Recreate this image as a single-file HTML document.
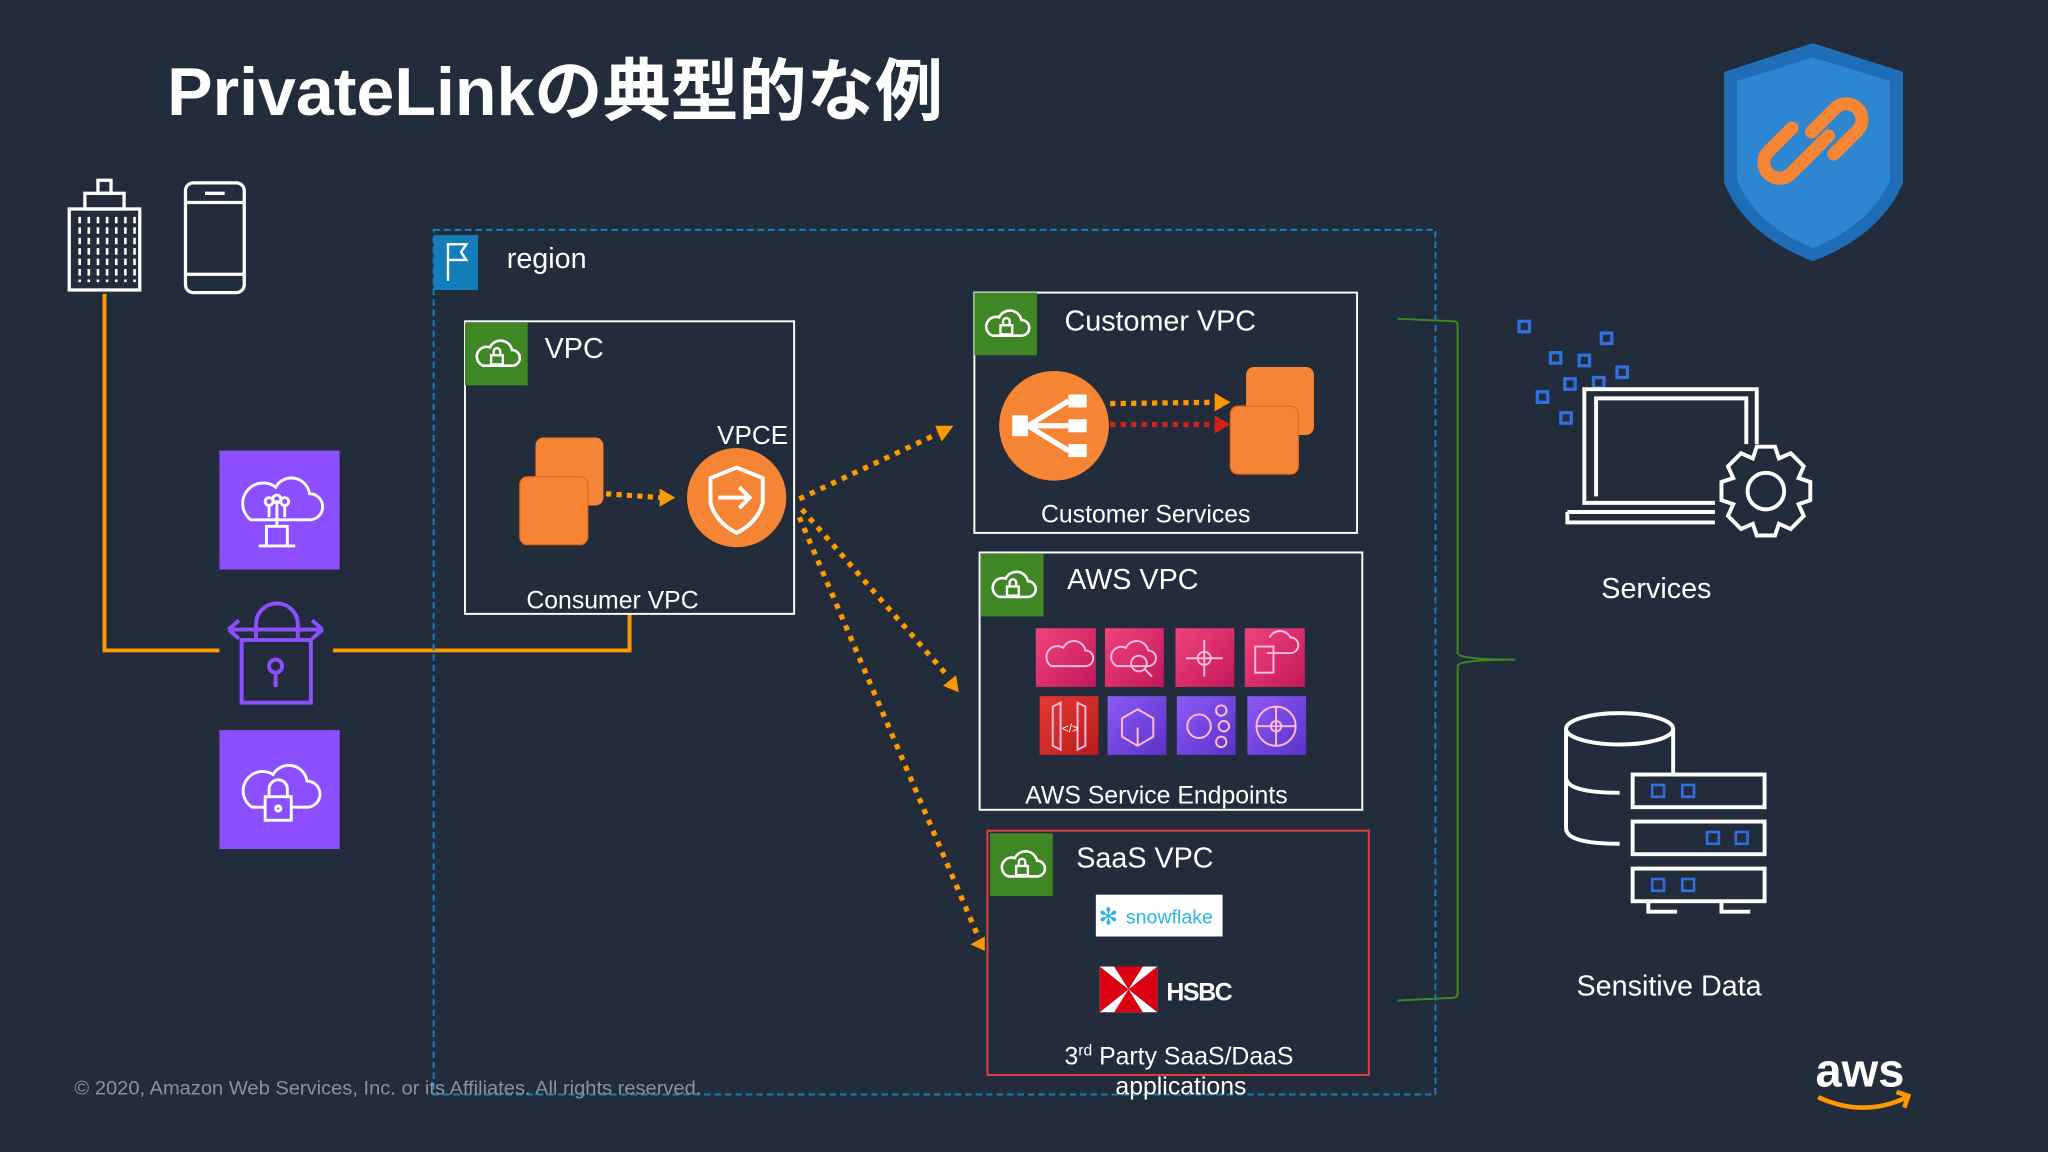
<!DOCTYPE html>
<html><head><meta charset="utf-8"><style>
html,body{margin:0;padding:0;background:#232c3b;}
svg{display:block}
text{font-family:"Liberation Sans","Noto Sans CJK JP",sans-serif;fill:#fff}
</style></head><body>
<svg width="2048" height="1152" viewBox="0 0 1568 882" xmlns="http://www.w3.org/2000/svg">
<defs>
<linearGradient id="pk" x1="0" y1="0" x2="1" y2="1"><stop offset="0" stop-color="#f0447c"/><stop offset="1" stop-color="#c2185b"/></linearGradient>
<linearGradient id="pu" x1="0" y1="0" x2="1" y2="1"><stop offset="0" stop-color="#8b5cf6"/><stop offset="1" stop-color="#5a32c8"/></linearGradient>
<linearGradient id="rd" x1="0" y1="0" x2="1" y2="1"><stop offset="0" stop-color="#e53935"/><stop offset="1" stop-color="#b71c1c"/></linearGradient>
<g id="cloudlock"><rect width="48" height="48" fill="#3f8624"/><path d="M14 33 h22 a6 6 0 0 0 0-12 a9 9 0 0 0-17-2 a7 7 0 0 0-5 14z" fill="none" stroke="#fff" stroke-width="2"/><rect x="20" y="25" width="9" height="7" fill="none" stroke="#fff" stroke-width="1.8"/><path d="M22 25 v-3 a2.5 2.5 0 0 1 5 0 v3" fill="none" stroke="#fff" stroke-width="1.8"/></g>
<g id="osq"><rect x="12" y="0" width="52" height="52" rx="6" fill="#f58534"/><rect x="0" y="30" width="52" height="52" rx="6" fill="#f58534" stroke="#e06b1e" stroke-width="1"/></g>
</defs>
<rect width="1568" height="882" fill="#232c3b"/>
<text x="128" y="88" font-size="52" font-weight="bold" textLength="594" lengthAdjust="spacingAndGlyphs">PrivateLinkの典型的な例</text>

<!-- shield -->
<path d="M1320 55 L1388 33 L1457 55 L1457 140 Q1440 180 1388 200 Q1336 180 1320 140 Z" fill="#1f6db5"/>
<path d="M1330 62 L1388 44 L1447 62 L1447 138 Q1432 172 1388 190 Q1344 172 1330 138 Z" fill="#2f86d0"/>
<g fill="none" stroke="#f58534" stroke-width="10" stroke-linecap="round"><path d="M1372 98 l-18 18 a12 12 0 0 0 17 17 l18-18"/><path d="M1404 118 l18-18 a12 12 0 0 0-17-17 l-18 18"/><path d="M1378 126 l22-22"/></g>

<!-- building & phone -->
<g fill="none" stroke="#fff" stroke-width="2.5">
<rect x="53" y="160" width="54" height="62"/><rect x="65" y="148" width="30" height="12"/><rect x="75" y="138" width="10" height="10"/>
<rect x="142" y="140" width="45" height="84" rx="6"/><line x1="142" y1="155" x2="187" y2="155"/><line x1="142" y1="210" x2="187" y2="210"/><line x1="157" y1="148" x2="172" y2="148"/>
</g>
<g stroke="#fff" stroke-width="2"><path d="M61 166v50M68 166v50M75 166v50M82 166v50M89 166v50M96 166v50M103 166v50" stroke-dasharray="5 3"/></g>

<!-- orange connector -->
<polyline points="80,225 80,498 168,498" fill="none" stroke="#f90" stroke-width="3"/>
<polyline points="255,498 482,498 482,470" fill="none" stroke="#f90" stroke-width="3"/>

<!-- purple icons -->
<rect x="168" y="345" width="92" height="91" fill="#8c4fff"/>
<g fill="none" stroke="#fff" stroke-width="2.2"><path d="M192 398 h45 a10 10 0 0 0 0-20 a14 14 0 0 0-26-5 a11 11 0 0 0-19 25z"/><path d="M204 418 v-15 h16 v15 M198 418 h28 M212 403 v-20 M206 396 v-10 M218 396 v-10"/><circle cx="212" cy="382" r="3"/><circle cx="206" cy="384" r="3"/><circle cx="218" cy="384" r="3"/></g>
<g fill="none" stroke="#8c4fff" stroke-width="3"><rect x="185" y="490" width="53" height="48"/><path d="M196 490 v-12 a16 16 0 0 1 32 0 v12"/><path d="M175 482 h72 M175 482 l8-7 M175 482 l8 7 M247 482 l-8-7 M247 482 l-8 7"/><circle cx="211" cy="510" r="5"/><line x1="211" y1="515" x2="211" y2="526"/></g>
<rect x="168" y="559" width="92" height="91" fill="#8c4fff"/>
<g fill="none" stroke="#fff" stroke-width="2.2"><path d="M193 618 h42 a10 10 0 0 0 0-20 a14 14 0 0 0-26-5 a11 11 0 0 0-16 25z"/><rect x="203" y="610" width="20" height="18" fill="#8c4fff"/><path d="M206 610 v-6 a7 7 0 0 1 14 0 v6"/><circle cx="213" cy="619" r="2"/></g>

<!-- region -->
<rect x="332" y="176" width="767" height="662" fill="none" stroke="#147eba" stroke-width="1.5" stroke-dasharray="5 3"/>
<rect x="332" y="180" width="34" height="42" fill="#147eba"/>
<path d="M343 215 v-28 h14 l-4 6 l4 6 h-14" fill="none" stroke="#fff" stroke-width="1.8"/>
<text x="388" y="205" font-size="22">region</text>

<!-- Consumer VPC -->
<rect x="356" y="246" width="252" height="224" fill="none" stroke="#fff" stroke-width="1.5"/>
<use href="#cloudlock" x="356" y="247"/>
<text x="417" y="274" font-size="22">VPC</text>
<use href="#osq" x="398" y="335"/>
<line x1="464" y1="378" x2="506" y2="381" stroke="#f90" stroke-width="4" stroke-dasharray="4 4"/>
<path d="M517 381 l-12-7 v14z" fill="#f90"/>
<circle cx="564" cy="381" r="38" fill="#f58534"/>
<path d="M544 366 L564 358 L584 366 L584 385 Q580 400 564 408 Q548 400 544 385 Z" fill="none" stroke="#fff" stroke-width="3"/>
<path d="M550 381 h24 M566 373 l8 8 l-8 8" fill="none" stroke="#fff" stroke-width="3"/>
<text x="549" y="340" font-size="20">VPCE</text>
<text x="403" y="466" font-size="19">Consumer VPC</text>

<!-- dotted arrows -->
<g stroke="#f90" stroke-width="4" stroke-dasharray="4 5" fill="none">
<line x1="612" y1="382" x2="718" y2="332"/>
<line x1="614" y1="390" x2="726" y2="518"/>
<line x1="612" y1="396" x2="748" y2="715"/>
</g>
<path d="M730 326 l-14 0 l5 12z" fill="#f90"/>
<path d="M734 530 l-12-5 l10-8z" fill="#f90"/>
<path d="M754 728 l-11-5 l11-6z" fill="#f90"/>

<!-- Customer VPC -->
<rect x="746" y="224" width="293" height="184" fill="none" stroke="#fff" stroke-width="1.5"/>
<use href="#cloudlock" x="746" y="224"/>
<text x="815" y="253" font-size="22">Customer VPC</text>
<circle cx="807" cy="326" r="42" fill="#f58534"/>
<g fill="#fff"><rect x="775" y="318" width="12" height="16"/><rect x="818" y="302" width="14" height="10"/><rect x="818" y="321" width="14" height="10"/><rect x="818" y="340" width="14" height="10"/></g>
<path d="M787 326 L818 307 M787 326 L818 326 M787 326 L818 345" stroke="#fff" stroke-width="4"/>
<use href="#osq" x="942" y="281"/>
<line x1="850" y1="309" x2="930" y2="308" stroke="#f90" stroke-width="4" stroke-dasharray="4 4"/>
<path d="M942 308 l-12-7 v14z" fill="#f90"/>
<line x1="850" y1="325" x2="930" y2="325" stroke="#d0201a" stroke-width="4" stroke-dasharray="4 4"/>
<path d="M942 325 l-12-7 v14z" fill="#d0201a"/>
<text x="797" y="400" font-size="19">Customer Services</text>

<!-- AWS VPC -->
<rect x="750" y="423" width="293" height="197" fill="none" stroke="#fff" stroke-width="1.5"/>
<use href="#cloudlock" x="751" y="424"/>
<text x="817" y="451" font-size="22">AWS VPC</text>
<g>
<rect x="793" y="481" width="46" height="45" fill="url(#pk)"/><rect x="846" y="481" width="45" height="45" fill="url(#pk)"/><rect x="900" y="481" width="45" height="45" fill="url(#pk)"/><rect x="953" y="481" width="46" height="45" fill="url(#pk)"/>
<rect x="796" y="533" width="45" height="45" fill="url(#rd)"/><rect x="848" y="533" width="45" height="45" fill="url(#pu)"/><rect x="901" y="533" width="45" height="45" fill="url(#pu)"/><rect x="955" y="533" width="45" height="45" fill="url(#pu)"/>
</g>
<g fill="none" stroke="#fbd" stroke-width="1.5">
<path d="M805 510 h26 a6 6 0 0 0 0-12 a9 9 0 0 0-17-2 a7 7 0 0 0-9 14z"/>
<path d="M855 510 h24 a6 6 0 0 0 0-12 a9 9 0 0 0-17-2 a7 7 0 0 0-7 14z"/><circle cx="872" cy="508" r="6"/><line x1="876" y1="512" x2="882" y2="518"/>
<path d="M922 490 v28 M908 504 h28"/><circle cx="922" cy="504" r="5"/>
<rect x="961" y="495" width="14" height="20"/><path d="M970 500 h18 a6 6 0 0 0 0-12 a9 9 0 0 0-16 0"/>
<path d="M806 541 v30 l6 3 v-36z M831 541 v30 l-6 3 v-36z"/><text x="813" y="561" font-size="9" stroke="none" fill="#fdd">&lt;/&gt;</text>
<path d="M871 543 l12 7 v14 l-12 7 l-12-7 v-14z M871 557 v14"/>
<circle cx="918" cy="556" r="9"/><circle cx="935" cy="544" r="4"/><circle cx="937" cy="556" r="4"/><circle cx="935" cy="568" r="4"/>
<circle cx="977" cy="556" r="15"/><circle cx="977" cy="556" r="4"/><path d="M962 556 h30 M977 541 v30"/>
</g>
<text x="785" y="615" font-size="19">AWS Service Endpoints</text>

<!-- SaaS VPC -->
<rect x="756" y="636" width="292" height="187" fill="none" stroke="#e0413c" stroke-width="1.5"/>
<use href="#cloudlock" x="758" y="638"/>
<text x="824" y="664" font-size="22">SaaS VPC</text>
<rect x="839" y="685" width="97" height="32" fill="#fff"/>
<text x="841" y="708" font-size="18" style="fill:#29b5e8">✻</text>
<text x="862" y="707" font-size="15" style="fill:#29b5e8">snowflake</text>
<rect x="842" y="740" width="44" height="35" fill="#fff"/>
<path d="M842 740 l22 17.5 l-22 17.5z M886 740 l-22 17.5 l22 17.5z" fill="#db0011"/>
<path d="M853 740 h22 l-11 17.5z M853 775 h22 l-11-17.5z" fill="#db0011"/>
<text x="893" y="766" font-size="19" font-weight="bold" style="letter-spacing:-1px">HSBC</text>
<text x="815" y="815" font-size="19">3<tspan font-size="12" dy="-7">rd</tspan><tspan dy="7"> Party SaaS/DaaS</tspan></text>
<text x="854" y="838" font-size="19">applications</text>

<!-- brace -->
<path d="M1070 244 L1113 246 Q1116 246 1116 250 L1116 500 Q1116 505 1160 505 Q1116 505 1116 510 L1116 760 Q1116 764 1112 764 L1070 766" fill="none" stroke="#3f8624" stroke-width="1.5"/>

<!-- services icon -->
<g fill="none" stroke="#2f6fde" stroke-width="2.5">
<rect x="1163" y="246" width="8" height="8"/><rect x="1226" y="255" width="8" height="8"/><rect x="1187" y="270" width="8" height="8"/><rect x="1209" y="272" width="8" height="8"/><rect x="1198" y="290" width="8" height="8"/><rect x="1220" y="289" width="8" height="8"/><rect x="1238" y="281" width="8" height="8"/><rect x="1177" y="300" width="8" height="8"/><rect x="1195" y="316" width="8" height="8"/>
</g>
<g fill="none" stroke="#fff" stroke-width="3">
<path d="M1313 385 H1213 V298 H1345 V340"/><path d="M1222 380 V305 H1337 V340"/>
<path d="M1200 392 H1313 M1200 392 v8 h113"/>
<circle cx="1352" cy="376" r="14"/>
<path d="M1345 342 h14 l3 9 l9-4 l10 10 l-4 9 l9 3 v14 l-9 3 l4 9 l-10 10 l-9-4 l-3 9 h-14 l-3-9 l-9 4 l-10-10 l4-9 l-9-3 v-14 l9-3 l-4-9 l10-10 l9 4z"/>
</g>
<text x="1226" y="458" font-size="22">Services</text>

<!-- sensitive data -->
<g fill="none" stroke="#fff" stroke-width="3">
<ellipse cx="1240" cy="558" rx="41" ry="12"/><path d="M1199 558 v76 q0 12 41 12 M1281 558 v34 M1199 595 q0 12 41 12"/>
<rect x="1250" y="593" width="101" height="25"/><rect x="1250" y="629" width="101" height="25"/><rect x="1250" y="665" width="101" height="25"/>
<path d="M1262 690 v8 h22 M1318 690 v8 h22"/>
</g>
<g fill="none" stroke="#2f6fde" stroke-width="2"><rect x="1265" y="601" width="9" height="9"/><rect x="1288" y="601" width="9" height="9"/><rect x="1307" y="637" width="9" height="9"/><rect x="1329" y="637" width="9" height="9"/><rect x="1265" y="673" width="9" height="9"/><rect x="1288" y="673" width="9" height="9"/></g>
<text x="1207" y="762" font-size="22">Sensitive Data</text>

<text x="57" y="838" font-size="15" style="fill:#8a929c" textLength="480" lengthAdjust="spacingAndGlyphs">© 2020, Amazon Web Services, Inc. or its Affiliates. All rights reserved.</text>
<text x="1390" y="832" font-size="36" font-weight="bold">aws</text>
<path d="M1392 840 q35 16 68 0 M1452 836 l9 3 l-3 9" fill="none" stroke="#f90" stroke-width="3.5"/>
</svg>
</body></html>
